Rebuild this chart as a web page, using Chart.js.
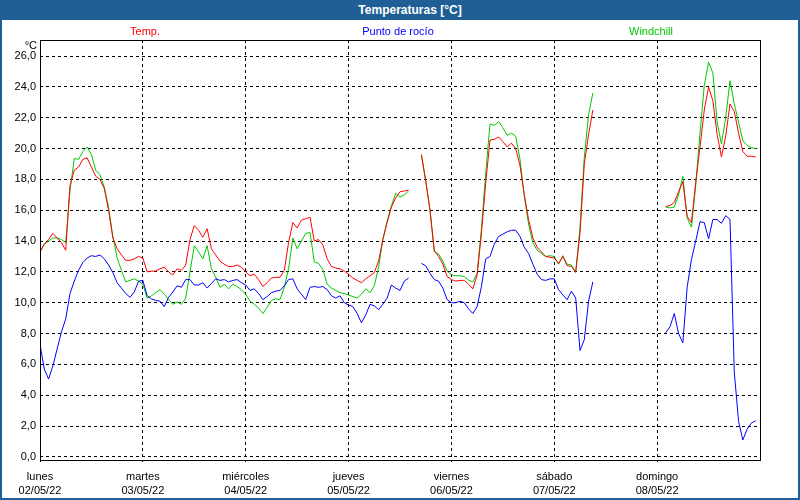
<!DOCTYPE html>
<html lang="es">
<head>
    <meta charset="UTF-8">
    <title>Temperaturas [°C]</title>
    <script src="https://cdn.jsdelivr.net/npm/chart.js"></script>
    <style>
        body { margin: 0; background: #fff; }
        #frame { position: relative; width: 800px; height: 500px; background: #fff; }
        #titleBar {
            position: absolute; left: 0; top: 0; width: 800px; height: 20px;
            box-sizing: border-box; padding-left: 20px;
            background: #1f5f96; color: #fff; text-align: center;
            font: bold 12px "Liberation Sans", sans-serif; line-height: 20px;
        }
        #edge {
            position: absolute; left: 0; top: 0; width: 800px; height: 500px;
            box-sizing: border-box; border: 2px solid #1f5f96; border-top: none;
            pointer-events: none;
        }
        canvas { position: absolute; left: 0; top: 0; }
    </style>
</head>
<body>
<div id="frame">
    <canvas id="tempChart" width="800" height="500"></canvas>
    <div id="titleBar">Temperaturas [°C]</div>
    <div id="edge"></div>
</div>

<script>
    // hourly readings from lunes 02/05/22 00:00 (null = no data)
    const hours = Array.from({length: 168}, (_, i) => i);

    const temp = [
        13.3, 13.8, 14.1, 14.5, 14.2, 13.9, 13.4, 17.6, 18.6, 18.8, 19.3, 19.4, 18.8, 18.2, 18.0, 17.4, 16.0, 14.2, 13.5, 13.1, 12.75, 12.75, 12.85, 13.0,
        12.9, 12.0, 12.05, 12.05, 12.2, 12.3, 12.0, 11.8, 12.2, 12.1, 12.45, 14.1, 15.0, 14.7, 14.25, 14.8, 13.5, 13.1, 12.7, 12.5, 12.35, 12.35, 12.45, 12.3,
        12.0, 11.75, 11.85, 11.5, 11.05, 11.3, 11.6, 11.65, 11.65, 12.1, 13.9, 15.2, 14.85, 15.35, 15.45, 15.55, 14.0, 14.1, 13.75, 12.85, 12.35, 12.25, 12.2, 12.05,
        11.85, 11.6, 11.45, 11.3, 11.55, 11.75, 11.95, 12.7, 14.1, 15.2, 16.2, 16.8, 17.2, 17.25, 17.3, null, null, 19.6, 17.9, 16.0, 13.4, 13.0, 12.5, 11.7,
        11.5, 11.4, 11.45, 11.45, 11.2, 10.9, 11.8, 14.5, 17.75, 20.55, 20.6, 20.75, 20.45, 20.1, 20.35, 20.0, 18.9, 17.0, 15.4, 14.2, 13.6, 13.3, 13.0, 12.95,
        12.9, 12.55, 13.0, 12.4, 12.35, 12.0, 14.5, 19.0, 20.9, 22.5, null, null, null, null, null, null, null, null, null, null, null, null, null, null,
        null, null, 16.25, 16.3, 16.5, 17.2, 17.85, 15.6, 15.2, 17.8, 20.1, 22.5, 24.0, 23.1, 20.9, 19.45, 20.8, 22.9, 22.4, 21.0, 19.8, 19.5, 19.5, 19.45
    ];

    const dewPoint = [
        7.3, 5.7, 5.05, 5.9, 7.0, 8.1, 8.95, 10.6, 11.4, 12.1, 12.6, 12.9, 13.05, 13.0, 13.1, 12.85, 12.45, 11.95, 11.3, 10.95, 10.6, 10.35, 10.7, 11.4,
        11.45, 10.45, 10.25, 10.15, 10.1, 9.75, 10.35, 10.7, 11.1, 11.0, 11.5, 11.5, 11.15, 11.15, 11.3, 10.95, 11.25, 11.55, 11.45, 11.5, 11.35, 11.45, 11.5, 11.3,
        11.15, 10.8, 10.9, 10.6, 10.2, 10.4, 10.65, 10.75, 10.8, 11.1, 11.5, 11.55, 10.9, 10.55, 10.2, 11.0, 11.05, 11.0, 11.05, 10.85, 10.45, 10.3, 10.45, 10.0,
        9.85, 9.75, 9.3, 8.7, 9.2, 9.9, 9.8, 9.55, 9.9, 10.3, 11.15, 10.95, 10.8, 11.4, 11.6, null, null, 12.55, 12.4, 11.9, 11.5, 11.4, 10.95, 10.2,
        10.0, 10.0, 10.1, 10.0, 9.6, 9.3, 9.75, 11.05, 12.85, 13.0, 13.8, 14.3, 14.45, 14.6, 14.7, 14.7, 14.3, 13.6, 13.2, 12.5, 11.85, 11.5, 11.45, 11.55,
        11.55, 10.85, 10.5, 10.2, 10.75, 10.3, 6.9, 7.6, 10.1, 11.35, null, null, null, null, null, null, null, null, null, null, null, null, null, null,
        null, null, 8.05, 8.45, 9.3, 8.0, 7.4, 11.0, 12.8, 14.0, 15.25, 15.2, 14.15, 15.4, 15.4, 15.15, 15.65, 15.4, 5.5, 2.3, 1.1, 1.8, 2.2, 2.35
    ];

    const windchill = [
        13.3, 13.8, 14.0, 14.2, 14.2, 14.1, 13.9, 17.3, 19.35, 19.3, 19.8, 20.1, 19.6, 18.6, 18.3, 17.5, 16.2, 14.3, 12.9, 12.1, 11.35, 11.45, 11.55, 11.4,
        11.2, 10.3, 10.45, 10.65, 10.85, 10.55, 10.2, 9.9, 10.05, 9.9, 10.3, 12.0, 13.7, 13.3, 12.85, 13.7, 12.2, 11.65, 11.0, 11.2, 10.9, 11.2, 11.05, 10.85,
        10.55, 10.1, 9.9, 9.65, 9.3, 9.7, 10.15, 10.25, 10.2, 11.0, 12.2, 14.2, 13.5, 14.0, 14.5, 14.55, 12.65, 12.55, 12.15, 11.2, 10.95, 10.8, 10.65, 10.6,
        10.5, 10.4, 10.3, 10.55, 10.9, 10.65, 11.1, 12.3, 14.1, 15.3, 16.3, 17.1, 16.85, 17.0, 17.25, null, null, 19.6, 17.9, 16.0, 13.3, 13.15, 12.7, 12.05,
        11.8, 11.75, 11.75, 11.7, 11.45, 11.35, 11.9, 14.8, 18.4, 21.6, 21.5, 21.75, 21.35, 20.85, 21.0, 20.8, 19.3, 16.9, 15.1, 13.9, 13.4, 13.2, 13.0, 13.05,
        13.0, 12.5, 13.05, 12.5, 12.45, 11.95, 14.9, 19.4, 22.2, 23.6, null, null, null, null, null, null, null, null, null, null, null, null, null, null,
        null, null, 16.2, 16.15, 16.2, 17.0, 18.2, 15.5, 14.9, 17.6, 21.0, 24.1, 25.6, 24.9, 21.7, 20.3, 22.0, 24.4, 22.9, 21.7, 20.5, 20.2, 20.05, 20.0
    ];

    const dayHours = [0, 24, 48, 72, 96, 120, 144];
    const dayNames = ['lunes', 'martes', 'miércoles', 'jueves', 'viernes', 'sábado', 'domingo'];
    const dayDates = ['02/05/22', '03/05/22', '04/05/22', '05/05/22', '06/05/22', '07/05/22', '08/05/22'];
    const yTicks = [0, 2, 4, 6, 8, 10, 12, 14, 16, 18, 20, 22, 24, 26];

    Chart.defaults.font.family = '"Liberation Sans", sans-serif';
    Chart.defaults.font.size = 11;
    Chart.defaults.color = '#000';

    // plot box, series names above the plot and the unit
    const framePlugin = {
        id: 'framePlugin',
        afterDraw(chart) {
            const ctx = chart.ctx;
            const a = chart.chartArea;
            ctx.save();
            ctx.setLineDash([]);
            ctx.strokeStyle = '#000';
            ctx.lineWidth = 1;
            ctx.strokeRect(a.left + 0.5, a.top + 0.5, a.right - a.left, a.bottom - a.top);

            ctx.font = '11px "Liberation Sans", sans-serif';
            ctx.textBaseline = 'middle';
            ctx.textAlign = 'center';
            chart.data.datasets.forEach((ds, i) => {
                ctx.fillStyle = ds.borderColor;
                ctx.fillText(ds.label, chart.width / 2 - 2 + (i - 1) * 253, 32);
            });

            ctx.fillStyle = '#000';
            ctx.textAlign = 'right';
            ctx.fillText('°C', a.left - 3, a.top + 6);
            ctx.restore();
        }
    };

    const ctx = document.getElementById('tempChart').getContext('2d');
    new Chart(ctx, {
        type: 'line',
        data: {
            labels: hours,
            datasets: [
                {label: 'Temp.', data: temp, borderColor: 'rgb(255, 0, 0)'},
                {label: 'Punto de rocío', data: dewPoint, borderColor: 'rgb(0, 0, 255)'},
                {label: 'Windchill', data: windchill, borderColor: 'rgb(0, 200, 0)'}
            ]
        },
        options: {
            responsive: false,
            animation: false,
            layout: {padding: {top: 40, right: 40, left: 0, bottom: 0}},
            elements: {
                point: {radius: 0},
                line: {borderWidth: 1, tension: 0}
            },
            plugins: {
                legend: {display: false},
                title: {display: false},
                tooltip: {enabled: false}
            },
            scales: {
                x: {
                    type: 'linear',
                    min: 0,
                    max: 168,
                    afterBuildTicks: s => { s.ticks = dayHours.map(v => ({value: v})); },
                    afterFit: s => { s.height = 40; },
                    grid: {color: '#000', lineWidth: 1, tickColor: '#000', tickLength: 4, tickBorderDash: [2, 2]},
                    border: {display: false, dash: [3, 3]},
                    ticks: {
                        autoSkip: false,
                        maxRotation: 0,
                        padding: 5,
                        font: {lineHeight: 1.36},
                        callback: v => {
                            const i = dayHours.indexOf(v);
                            return i < 0 ? '' : [dayNames[i], dayDates[i]];
                        }
                    }
                },
                y: {
                    min: -0.2,
                    max: 27.04,
                    afterBuildTicks: s => { s.ticks = yTicks.map(v => ({value: v})); },
                    afterFit: s => { s.width = 40; },
                    grid: {color: '#000', lineWidth: 1, drawTicks: false},
                    border: {display: false, dash: [3, 3]},
                    ticks: {
                        padding: 4,
                        callback: v => v.toFixed(1).replace('.', ',')
                    }
                }
            }
        },
        plugins: [framePlugin]
    });
</script>
</body>
</html>
